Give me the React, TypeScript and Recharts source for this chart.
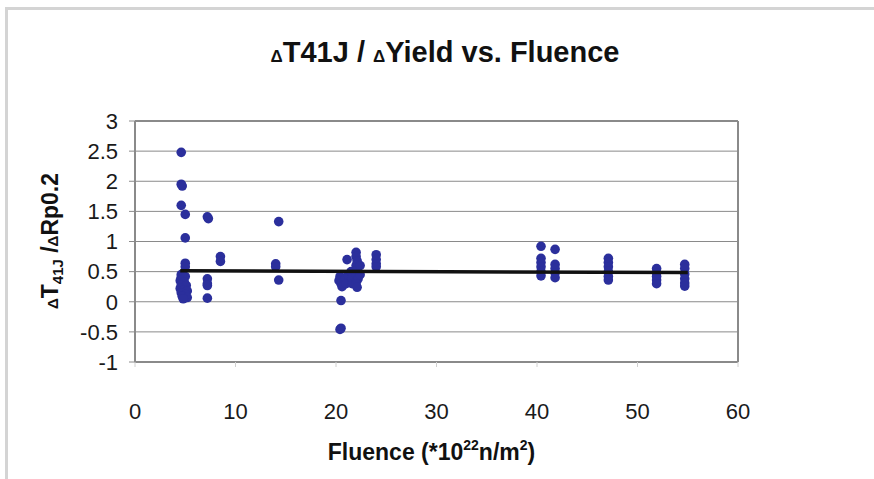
import React from "react";
import {
  CartesianGrid,
  ReferenceLine,
  Scatter,
  ScatterChart,
  XAxis,
  YAxis,
} from "recharts";

// fluence (*10^22 n/m^2) and dT41J / dRp0.2
const fluence = [
  4.6, 4.6, 4.7, 4.6, 5.0, 5.0, 5.0, 5.0, 4.6, 4.6, 5.0, 4.5, 4.9, 4.6, 5.1,
  4.5, 4.9, 5.2, 4.6, 5.0, 4.7, 5.2, 4.8,
  7.2, 7.3, 7.2, 7.2, 7.2, 7.2,
  8.5, 8.5,
  14.3, 14.0, 14.0, 14.3,
  20.5, 20.5, 20.4, 20.4, 20.3, 20.5, 20.6, 20.9, 21.0, 21.1, 21.2, 21.5, 21.6,
  21.6, 22.0, 22.0, 22.1, 22.0, 22.1, 22.0, 22.2, 22.0, 22.1, 22.4, 22.4,
  24.0, 24.0, 24.0, 24.0,
  40.4, 40.4, 40.4, 40.4, 40.4, 40.4,
  41.8, 41.8, 41.8, 41.8, 41.8,
  47.1, 47.1, 47.1, 47.1, 47.1, 47.1,
  51.9, 51.9, 51.9, 51.9, 51.9,
  54.7, 54.7, 54.7, 54.7, 54.7, 54.7,
];

const ratio = [
  2.48, 1.95, 1.92, 1.6, 1.45, 1.06, 0.64, 0.58, 0.45, 0.4, 0.42, 0.35, 0.33,
  0.28, 0.27, 0.22, 0.2, 0.18, 0.15, 0.12, 0.09, 0.07, 0.05,
  1.41, 1.38, 0.38, 0.3, 0.27, 0.06,
  0.75, 0.67,
  1.33, 0.63, 0.58, 0.36,
  0.02, -0.44, -0.46, 0.42, 0.35, 0.3, 0.25, 0.38, 0.3, 0.7, 0.45, 0.5, 0.4,
  0.3, 0.82, 0.75, 0.68, 0.6, 0.52, 0.45, 0.38, 0.3, 0.24, 0.6, 0.45,
  0.78, 0.7, 0.63, 0.58,
  0.92, 0.72, 0.65, 0.58, 0.5, 0.43,
  0.87, 0.62, 0.55, 0.48, 0.4,
  0.72, 0.65, 0.58, 0.5, 0.42, 0.36,
  0.55, 0.48, 0.42, 0.36, 0.3,
  0.62, 0.55, 0.46, 0.38, 0.31, 0.26,
];

// linear trendline end points
const trendX = [4.5, 55];
const trendY = [0.515, 0.485];

const xTicks = [0, 10, 20, 30, 40, 50, 60];
const yTicks = [-1, -0.5, 0, 0.5, 1, 1.5, 2, 2.5, 3];

const points = fluence.map((x, i) => ({ x, y: ratio[i] }));
const trend = trendX.map((x, i) => ({ x, y: trendY[i] }));

const FONT = "'Liberation Sans', Arial, Helvetica, sans-serif";
const DOT = "#2b2f9c";
const AXIS = "#8a8a8a";

const tickStyle = { fontSize: 22, fill: "#1a1a1a", fontFamily: FONT };

const Dot = (props: any) => (
  <circle cx={props.cx} cy={props.cy} r={4.8} fill={DOT} />
);

export default function App() {
  return (
    <div
      style={{
        position: "absolute",
        left: 0,
        top: 0,
        width: 874,
        height: 479,
        background: "#fff",
        fontFamily: FONT,
      }}
    >
      {/* outer chart frame, only top and left edges show */}
      <div
        style={{
          position: "absolute",
          left: 5,
          top: 7,
          right: 0,
          bottom: 0,
          borderTop: "3px solid #d4d4d4",
          borderLeft: "3px solid #d4d4d4",
        }}
      />
      <div
        style={{
          position: "absolute",
          left: 0,
          top: 36,
          width: 874,
          textAlign: "center",
          fontSize: 29,
          lineHeight: "33px",
          fontWeight: 700,
          color: "#111",
        }}
      >
        <span style={{ marginLeft: 16 }}>
          <span style={{ fontSize: 17 }}>Δ</span>T41J /{" "}
          <span style={{ fontSize: 17 }}>Δ</span>Yield vs. Fluence
        </span>
      </div>
      <div style={{ position: "absolute", left: 0, top: 0 }}>
        <ScatterChart
          width={874}
          height={479}
          margin={{ top: 121, right: 136, bottom: 87, left: 75 }}
        >
          <CartesianGrid
            vertical={false}
            stroke={AXIS}
            strokeWidth={1}
            fill="#fff"
          />
          <XAxis
            type="number"
            dataKey="x"
            domain={[0, 60]}
            ticks={xTicks}
            interval={0}
            height={30}
            tick={tickStyle}
            tickSize={5}
            tickMargin={36}
            tickLine={{ stroke: "#d0d0d0" }}
            axisLine={{ stroke: AXIS, strokeWidth: 2 }}
            label={{
              content: (p: any) => {
                const vb = p.viewBox;
                const cx = vb.x + vb.width / 2 - 5;
                return (
                  <text
                    x={cx}
                    y={460}
                    textAnchor="middle"
                    fontFamily={FONT}
                    fontWeight={700}
                    fontSize={23}
                    fill="#111"
                  >
                    Fluence (*10
                    <tspan fontSize={14} dy={-10}>
                      22
                    </tspan>
                    <tspan dy={10}>n/m</tspan>
                    <tspan fontSize={14} dy={-10}>
                      2
                    </tspan>
                    <tspan dy={10}>)</tspan>
                  </text>
                );
              },
            }}
          />
          <YAxis
            type="number"
            dataKey="y"
            domain={[-1, 3]}
            ticks={yTicks}
            interval={0}
            width={60}
            tick={tickStyle}
            tickSize={6}
            tickMargin={11}
            tickLine={{ stroke: AXIS }}
            axisLine={{ stroke: AXIS, strokeWidth: 2 }}
            label={{
              content: () => (
                <text
                  transform="translate(58 241) rotate(-90)"
                  textAnchor="middle"
                  fontFamily={FONT}
                  fontWeight={700}
                  fontSize={23}
                  fill="#111"
                >
                  <tspan fontSize={15}>Δ</tspan>
                  <tspan>T</tspan>
                  <tspan fontSize={15} dy={5}>
                    41J
                  </tspan>
                  <tspan dy={-5}> /</tspan>
                  <tspan fontSize={15}>Δ</tspan>
                  <tspan>Rp0.2</tspan>
                </text>
              ),
            }}
          />
          <ReferenceLine y={3} stroke={AXIS} strokeWidth={2} />
          <ReferenceLine x={60} stroke={AXIS} strokeWidth={2} />
          <Scatter data={points} shape={Dot} isAnimationActive={false} />
          <Scatter
            data={trend}
            line={{ stroke: "#111", strokeWidth: 3.5 }}
            lineType="joint"
            shape={() => <g />}
            isAnimationActive={false}
          />
        </ScatterChart>
      </div>
    </div>
  );
}
